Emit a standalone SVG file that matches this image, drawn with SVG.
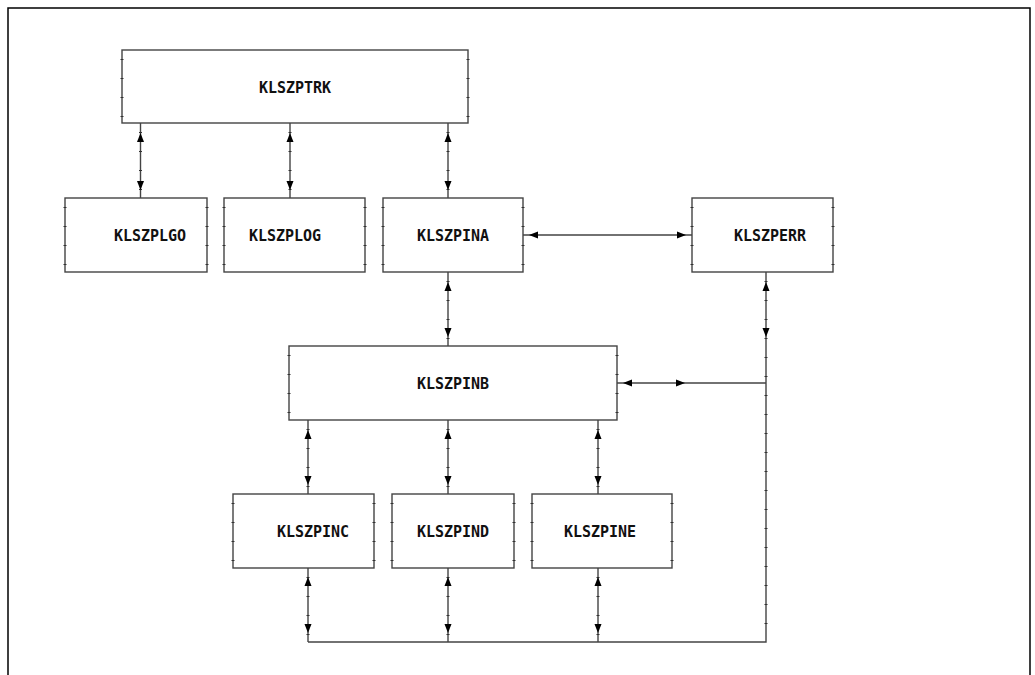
<svg xmlns="http://www.w3.org/2000/svg" xmlns:xlink="http://www.w3.org/1999/xlink" width="1035" height="675" viewBox="0 0 1035 675">
<style>
.box{fill:#fff;stroke:#444;stroke-width:1.4}
.tick{fill:none;stroke:#333;stroke-width:3;stroke-dasharray:0 9 1 9}
.lbl{font-family:"DejaVu Sans Mono","Liberation Mono",monospace;font-weight:bold;font-size:15px;fill:#111;text-anchor:middle}
.ln{fill:none;stroke:#444;stroke-width:1.4}
.ah{fill:#000}
</style>
<defs>
<path id="up" d="M0,0 L3.5,9 L-3.5,9 Z"/>
<path id="dn" d="M0,0 L3.5,-9 L-3.5,-9 Z"/>
<path id="lt" d="M0,0 L9,-3.5 L9,3.5 Z"/>
<path id="rt" d="M0,0 L-9,-3.5 L-9,3.5 Z"/>
</defs>
<rect width="1035" height="675" fill="#fff"/>
<path d="M8,676 V8 H1030 V676" fill="none" stroke="#000" stroke-width="1.5"/>

<g id="connectors">
<path class="ln" d="M140.5,123 V198 M290,123 V198 M448,123 V198 M448,272 V346 M766,272 V642 H308 M308,420 V494 M448,420 V494 M598,420 V494 M308,568 V642 M448,568 V642 M598,568 V642 M523,235 H692 M617,383 H766"/>
<path class="tick" d="M140.5,123 V198 M290,123 V198 M448,123 V198 M448,272 V346 M766,272 V642 M308,420 V494 M448,420 V494 M598,420 V494 M308,568 V642 M448,568 V642 M598,568 V642"/>
<g class="ah">
<use xlink:href="#up" x="140.5" y="133"/><use xlink:href="#dn" x="140.5" y="190"/>
<use xlink:href="#up" x="290" y="133"/><use xlink:href="#dn" x="290" y="190"/>
<use xlink:href="#up" x="448" y="133"/><use xlink:href="#dn" x="448" y="190"/>
<use xlink:href="#lt" x="529" y="235"/><use xlink:href="#rt" x="686" y="235"/>
<use xlink:href="#up" x="448" y="282"/><use xlink:href="#dn" x="448" y="337"/>
<use xlink:href="#up" x="766" y="282"/><use xlink:href="#dn" x="766" y="337"/>
<use xlink:href="#lt" x="623" y="383"/><use xlink:href="#rt" x="685" y="383"/>
<use xlink:href="#up" x="308" y="430"/><use xlink:href="#dn" x="308" y="485"/>
<use xlink:href="#up" x="448" y="430"/><use xlink:href="#dn" x="448" y="485"/>
<use xlink:href="#up" x="598" y="430"/><use xlink:href="#dn" x="598" y="485"/>
<use xlink:href="#up" x="308" y="577"/><use xlink:href="#dn" x="308" y="633"/>
<use xlink:href="#up" x="448" y="577"/><use xlink:href="#dn" x="448" y="633"/>
<use xlink:href="#up" x="598" y="577"/><use xlink:href="#dn" x="598" y="633"/>
</g>
</g>

<g id="KLSZPTRK"><rect class="box" x="122" y="50" width="346" height="73"/><path class="tick" d="M122,50 V123 M468,50 V123"/><text class="lbl" x="295" y="93">KLSZPTRK</text></g>
<g id="KLSZPLGO"><rect class="box" x="65" y="198" width="142" height="74"/><path class="tick" d="M65,198 V272 M207,198 V272"/><text class="lbl" x="150" y="241">KLSZPLGO</text></g>
<g id="KLSZPLOG"><rect class="box" x="224" y="198" width="141" height="74"/><path class="tick" d="M224,198 V272 M365,198 V272"/><text class="lbl" x="285" y="241">KLSZPLOG</text></g>
<g id="KLSZPINA"><rect class="box" x="383" y="198" width="140" height="74"/><path class="tick" d="M383,198 V272 M523,198 V272"/><text class="lbl" x="453" y="241">KLSZPINA</text></g>
<g id="KLSZPERR"><rect class="box" x="692" y="198" width="141" height="74"/><path class="tick" d="M692,198 V272 M833,198 V272"/><text class="lbl" x="770" y="241">KLSZPERR</text></g>
<g id="KLSZPINB"><rect class="box" x="289" y="346" width="328" height="74"/><path class="tick" d="M289,346 V420 M617,346 V420"/><text class="lbl" x="453" y="389">KLSZPINB</text></g>
<g id="KLSZPINC"><rect class="box" x="233" y="494" width="141" height="74"/><path class="tick" d="M233,494 V568 M374,494 V568"/><text class="lbl" x="313" y="537">KLSZPINC</text></g>
<g id="KLSZPIND"><rect class="box" x="392" y="494" width="122" height="74"/><path class="tick" d="M392,494 V568 M514,494 V568"/><text class="lbl" x="453" y="537">KLSZPIND</text></g>
<g id="KLSZPINE"><rect class="box" x="532" y="494" width="140" height="74"/><path class="tick" d="M532,494 V568 M672,494 V568"/><text class="lbl" x="600" y="537">KLSZPINE</text></g>
</svg>
